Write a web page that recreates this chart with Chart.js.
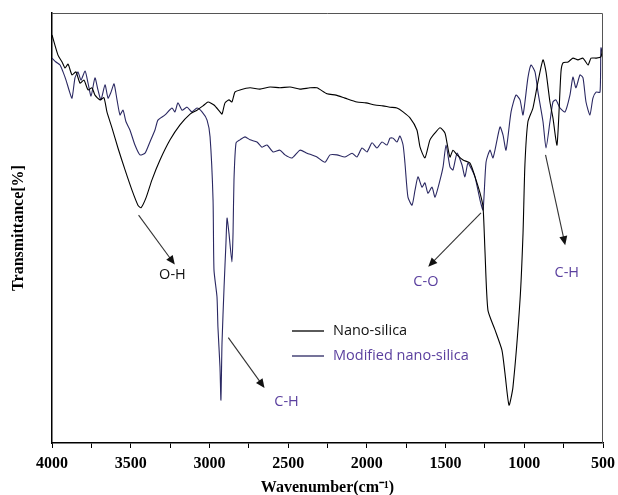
<!DOCTYPE html>
<html>
<head>
<meta charset="utf-8">
<script src="https://cdn.jsdelivr.net/npm/chart.js@4/dist/chart.umd.min.js"></script>
<style>
  html, body { margin: 0; padding: 0; background: #fff; }
  #wrap { width: 618px; height: 495px; }
</style>
</head>
<body>
<div id="wrap"><canvas id="ftir" width="618" height="495"></canvas></div>
<script>
// Nano-silica (black)
const nanoWn = [4000,3962,3936,3917,3898,3873,3848,3822,3797,3771,3746,3727,3695,3670,3651,3619,3581,3536,3492,3454,3435,3403,3365,3314,3250,3187,3123,3079,3041,3009,2971,2933,2920,2901,2876,2857,2838,2806,2742,2679,2615,2552,2488,2425,2361,2317,2253,2196,2139,2063,2006,1948,1898,1853,1809,1770,1726,1682,1662,1631,1599,1567,1535,1504,1491,1472,1453,1427,1389,1345,1313,1281,1262,1250,1231,1186,1142,1123,1097,1072,1027,1008,996,977,945,913,881,862,837,818,792,767,754,722,691,659,627,595,576,544,513,500];
const nanoT  = [94.9,90.2,88.6,87.2,88.1,85.6,86.3,83.7,84.4,82.1,82.6,80.9,79.8,80.3,77.0,73.3,68.6,63.5,58.8,55.3,54.7,57.0,61.2,65.8,70.5,74.0,76.5,77.4,78.4,79.3,78.6,77.0,76.5,79.1,79.8,79.3,81.6,82.1,82.6,82.3,82.8,82.6,82.8,82.3,82.6,82.6,81.2,80.9,80.2,79.3,79.1,78.6,78.4,78.1,77.9,77.0,75.6,72.8,68.8,66.3,70.5,72.1,73.3,72.1,69.8,66.5,68.1,67.0,65.8,65.1,61.9,58.1,54.9,44.9,30.9,26.3,21.6,16.3,8.8,13.0,33.3,48.8,64.7,74.7,77.9,84.0,89.1,86.3,79.3,75.6,69.3,86.3,88.4,88.6,89.5,89.1,89.5,87.9,89.5,89.5,89.8,92.6];

// Modified nano-silica (navy)
const modWn = [4000,3975,3949,3930,3911,3892,3873,3854,3835,3816,3790,3771,3752,3727,3708,3689,3663,3644,3625,3606,3587,3568,3549,3530,3505,3473,3441,3409,3378,3346,3327,3282,3238,3219,3200,3174,3142,3111,3079,3047,3015,2996,2977,2971,2952,2946,2933,2927,2920,2907,2895,2888,2876,2857,2850,2844,2831,2806,2774,2742,2698,2666,2634,2596,2552,2520,2476,2425,2380,2317,2266,2234,2190,2139,2094,2063,2031,1999,1967,1936,1904,1872,1853,1834,1809,1790,1770,1758,1739,1713,1694,1675,1650,1631,1612,1586,1567,1535,1516,1497,1472,1453,1427,1396,1377,1358,1332,1313,1281,1262,1243,1218,1199,1173,1154,1135,1116,1084,1053,1027,1008,977,957,932,913,881,862,837,818,799,773,741,710,691,672,646,627,608,583,564,544,519,513,500];
const modT  = [89.5,88.6,87.9,86.3,84.4,82.1,80.2,84.9,86.3,84.4,86.5,83.7,80.7,84.9,82.1,79.8,83.3,80.2,81.6,83.5,79.8,76.3,77.4,74.7,72.8,69.3,67.0,67.4,70.0,72.8,75.1,76.3,77.9,77.0,79.1,77.4,78.1,77.0,77.9,77.0,75.1,71.2,56.5,40.2,34.0,27.0,17.7,10.0,23.3,36.3,46.5,52.3,48.8,42.1,48.8,61.2,69.8,70.5,71.2,70.5,70.0,68.8,69.3,67.7,68.1,67.0,66.3,68.1,67.4,66.5,65.3,67.0,67.0,66.5,67.4,66.5,68.6,67.7,69.8,68.6,70.0,69.3,70.9,70.9,70.0,71.4,69.3,65.1,57.2,55.3,58.8,61.9,59.5,60.5,58.1,59.5,57.2,61.2,64.2,69.3,64.2,63.5,67.4,64.7,61.9,65.1,63.5,61.9,56.5,54.2,65.3,68.1,66.3,70.5,73.5,71.6,68.1,77.0,80.9,79.8,76.3,84.9,87.9,86.3,81.6,74.7,68.6,74.7,79.3,79.8,77.9,77.0,80.9,85.1,82.6,85.6,84.9,79.3,76.3,80.2,81.6,81.6,91.9,90.2];

const seriesNames = ["Nano-silica", "Modified nano-silica"];
const seriesColors = ["#000000", "#2a2862"];
const legendTextColors = ["#111111", "#5a3f9e"];

// peak labels: [text, colour, arrow from (wn, T), arrow to (wn, T), label at (wn, T)]
const peakNotes = [
  ["O-H", "#111111", [3450, 53], [3220, 41.5], [3235, 39]],
  ["C-H", "#5a3f9e", [2880, 24.5], [2650, 12.8], [2510, 9.5]],
  ["C-O", "#5a3f9e", [1275, 53.5], [1610, 41], [1625, 37.5]],
  ["C-H", "#5a3f9e", [865, 67], [740, 46], [730, 39.5]]
];

const toPts = (xs, ys) => xs.map((x, i) => ({ x, y: ys[i] }));

const frame = {
  id: "frame",
  afterDraw(chart) {
    const { ctx, chartArea: a, scales } = chart;
    ctx.save();
    ctx.strokeStyle = "#555";
    ctx.lineWidth = 1;
    ctx.beginPath();
    ctx.moveTo(a.left, a.top + 0.5);
    ctx.lineTo(a.right - 0.5, a.top + 0.5);
    ctx.lineTo(a.right - 0.5, a.bottom);
    ctx.stroke();

    // legend inside the plot
    const lx = 292, ly = [331, 356];
    seriesNames.forEach((n, i) => {
      ctx.strokeStyle = seriesColors[i];
      ctx.lineWidth = 1.3;
      ctx.beginPath();
      ctx.moveTo(lx, ly[i]);
      ctx.lineTo(lx + 32, ly[i]);
      ctx.stroke();
      ctx.fillStyle = legendTextColors[i];
      ctx.font = "14.5px 'Open Sans'";
      ctx.textBaseline = "middle";
      ctx.textAlign = "left";
      ctx.fillText(n, lx + 41, ly[i]);
    });

    // arrows and labels
    const X = scales.x, Y = scales.y;
    peakNotes.forEach(([t, c, from, to, at]) => {
      const x1 = X.getPixelForValue(from[0]), y1 = Y.getPixelForValue(from[1]);
      const x2 = X.getPixelForValue(to[0]), y2 = Y.getPixelForValue(to[1]);
      const ang = Math.atan2(y2 - y1, x2 - x1);
      ctx.strokeStyle = "#333";
      ctx.lineWidth = 1.1;
      ctx.beginPath();
      ctx.moveTo(x1, y1);
      ctx.lineTo(x2 - 6 * Math.cos(ang), y2 - 6 * Math.sin(ang));
      ctx.stroke();
      ctx.fillStyle = "#111";
      ctx.beginPath();
      ctx.moveTo(x2, y2);
      ctx.lineTo(x2 - 9 * Math.cos(ang) + 4 * Math.sin(ang), y2 - 9 * Math.sin(ang) - 4 * Math.cos(ang));
      ctx.lineTo(x2 - 9 * Math.cos(ang) - 4 * Math.sin(ang), y2 - 9 * Math.sin(ang) + 4 * Math.cos(ang));
      ctx.closePath();
      ctx.fill();
      ctx.fillStyle = c;
      ctx.font = "14.5px 'Open Sans'";
      ctx.textAlign = "center";
      ctx.textBaseline = "middle";
      ctx.fillText(t, X.getPixelForValue(at[0]), Y.getPixelForValue(at[1]));
    });
    ctx.restore();
  }
};

new Chart(document.getElementById("ftir"), {
  type: "line",
  data: {
    datasets: [
      { label: seriesNames[0], data: toPts(nanoWn, nanoT), borderColor: seriesColors[0], borderWidth: 1.1, pointRadius: 0, tension: 0.2 },
      { label: seriesNames[1], data: toPts(modWn, modT), borderColor: seriesColors[1], borderWidth: 1.1, pointRadius: 0, tension: 0.2 }
    ]
  },
  options: {
    responsive: false,
    animation: false,
    layout: { padding: { top: 13, right: 15, left: 0, bottom: 0 } },
    plugins: { legend: { display: false }, tooltip: { enabled: false } },
    scales: {
      x: {
        type: "linear",
        reverse: true,
        min: 500,
        max: 4000,
        afterFit: s => { s.height = 52; s.paddingLeft = 0; s.paddingRight = 0; },
        border: { display: true, color: "#000", width: 1.5 },
        grid: { drawOnChartArea: false, drawTicks: true, tickLength: 5, color: "#000" },
        ticks: {
          stepSize: 250,
          autoSkip: false,
          maxRotation: 0,
          padding: 6,
          color: "#000",
          font: { family: "'Liberation Serif'", size: 16, weight: "bold" },
          callback: v => (v % 500 === 0 ? v : "")
        },
        title: {
          display: true,
          text: "Wavenumber(cm\u207B\u00B9)",
          color: "#000",
          padding: { top: 0, bottom: -2 },
          font: { family: "'Liberation Serif'", size: 16, weight: "bold" }
        }
      },
      y: {
        min: 0,
        max: 100,
        afterFit: s => { s.width = 52; },
        border: { display: true, color: "#000", width: 1.5 },
        grid: { display: false },
        ticks: { display: false },
        title: {
          display: true,
          text: "Transmittance[%]",
          color: "#000",
          padding: { top: 9, bottom: 0 },
          font: { family: "'Liberation Serif'", size: 16, weight: "bold" }
        }
      }
    }
  },
  plugins: [frame]
});
</script>
</body>
</html>
